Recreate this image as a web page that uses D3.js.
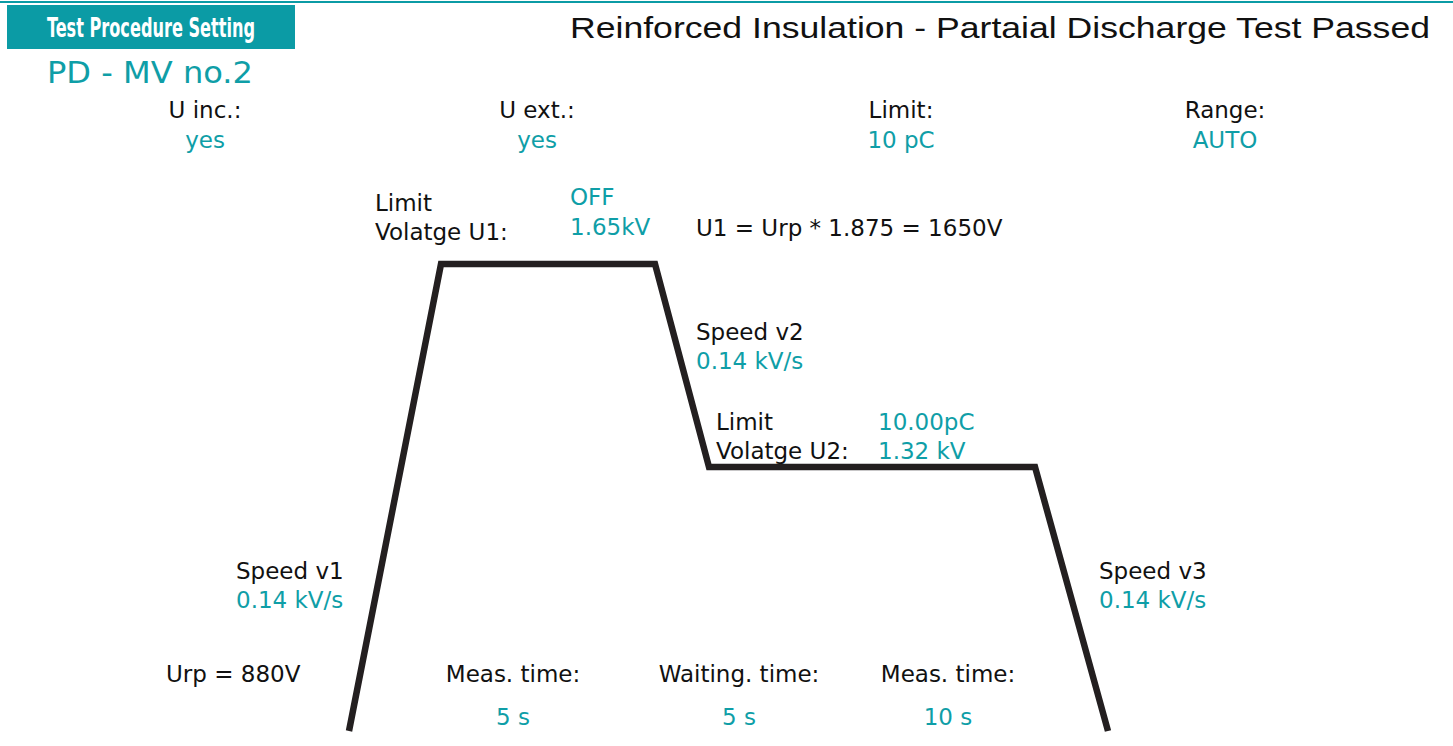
<!DOCTYPE html>
<html>
<head>
  <meta charset="utf-8">
  <script src="https://d3js.org/d3.v7.min.js"></script>
  <style>
  body {
    margin:0;
    background:#fff;
  }
  text {
    font-family: "DejaVu Sans", sans-serif;
  }
  .lbl { fill: #111; }
  .val { fill: #0f9ea7; }
</style>
</head>
<body>
<script>

  var width = 1453, height = 746;
  var teal = "#0b9ba5";

  // settings row
  var settingNames = ["U inc.:", "U ext.:", "Limit:", "Range:"];
  var settingValues = ["yes", "yes", "10 pC", "AUTO"];

  // test profile: time points (s) and voltage (kV)
  var phaseTime = [0, 5.5, 10.5, 12.86, 27.86, 31];
  var phaseVolt = [0.88, 1.65, 1.65, 1.32, 1.32, 0.88];

  // bottom timing labels
  var timeNames = ["Meas. time:", "Waiting. time:", "Meas. time:"];
  var timeValues = ["5 s", "5 s", "10 s"];

  var speedNames = ["Speed v1", "Speed v2", "Speed v3"];
  var speedValues = ["0.14 kV/s", "0.14 kV/s", "0.14 kV/s"];

  var svg = d3.select("body").append("svg")
    .attr("width", width)
    .attr("height", height);

  // schematic (non uniform) time axis
  var x = d3.scaleLinear()
    .domain(phaseTime)
    .range([349, 441, 655, 709, 1035, 1108]);
  var y = d3.scaleLinear()
    .domain([0.88, 1.32, 1.65])
    .range([731, 467, 264]);

  // header
  svg.append("line")
    .attr("x1", 0).attr("x2", width)
    .attr("y1", 2).attr("y2", 2)
    .attr("stroke", teal).attr("stroke-width", 2);

  svg.append("rect")
    .attr("x", 7).attr("y", 5)
    .attr("width", 288).attr("height", 44)
    .attr("fill", teal);

  svg.append("text")
    .attr("x", 47).attr("y", 37)
    .attr("textLength", 208).attr("lengthAdjust", "spacingAndGlyphs")
    .style("font-family", "'Liberation Sans Narrow', 'DejaVu Sans Condensed', sans-serif")
    .style("font-weight", "bold")
    .style("font-size", "27px")
    .attr("fill", "#fff")
    .text("Test Procedure Setting");

  svg.append("text")
    .attr("class", "val")
    .attr("x", 47).attr("y", 83)
    .attr("textLength", 206).attr("lengthAdjust", "spacingAndGlyphs")
    .style("font-size", "30px")
    .text("PD - MV no.2");

  svg.append("text")
    .attr("class", "lbl")
    .attr("x", 570).attr("y", 38)
    .attr("textLength", 860).attr("lengthAdjust", "spacingAndGlyphs")
    .style("font-family", "'Liberation Sans', sans-serif")
    .style("font-size", "30px")
    .text("Reinforced Insulation - Partaial Discharge Test Passed");

  // settings
  var settingCx = [205, 537, 901, 1225];
  svg.selectAll(".setname")
    .data(settingNames)
    .enter().append("text")
    .attr("class", "lbl setname")
    .attr("x", (d, i) => settingCx[i])
    .attr("y", 118)
    .attr("text-anchor", "middle")
    .style("font-size", "23px")
    .text(d => d);
  svg.selectAll(".setval")
    .data(settingValues)
    .enter().append("text")
    .attr("class", "val setval")
    .attr("x", (d, i) => settingCx[i])
    .attr("y", 148)
    .attr("text-anchor", "middle")
    .style("font-size", "23px")
    .text(d => d);

  // profile line
  var pts = phaseTime.map((t, i) => [x(t), y(phaseVolt[i])]);
  svg.append("path")
    .datum(pts)
    .attr("d", d3.line())
    .attr("fill", "none")
    .attr("stroke", "#231f20")
    .attr("stroke-width", 6.5)
    .attr("stroke-linejoin", "miter");

  function txt(cls, tx, ty, s, anchor) {
    svg.append("text")
      .attr("class", cls)
      .attr("x", tx).attr("y", ty)
      .attr("text-anchor", anchor || "start")
      .style("font-size", "23px")
      .text(s);
  }

  // U1 block
  txt("lbl", 375, 211, "Limit");
  txt("lbl", 375, 240, "Volatge U1:");
  txt("val", 570, 205, "OFF");
  txt("val", 570, 235, "1.65kV");
  txt("lbl", 696, 236, "U1 = Urp * 1.875 = 1650V");

  // U2 block
  txt("lbl", 716, 430, "Limit");
  txt("lbl", 716, 459, "Volatge U2:");
  txt("val", 878, 430, "10.00pC");
  txt("val", 878, 459, "1.32 kV");

  // speeds
  var speedPos = [[236, 579], [696, 340], [1099, 579]];
  speedNames.forEach((s, i) => {
    txt("lbl", speedPos[i][0], speedPos[i][1], s);
    txt("val", speedPos[i][0], speedPos[i][1] + 29, speedValues[i]);
  });

  txt("lbl", 166, 682, "Urp = 880V");

  // timings
  var timeCx = [513, 739, 948];
  timeNames.forEach((s, i) => {
    txt("lbl", timeCx[i], 682, s, "middle");
    txt("val", timeCx[i], 725, timeValues[i], "middle");
  });

</script>
</body>
</html>
